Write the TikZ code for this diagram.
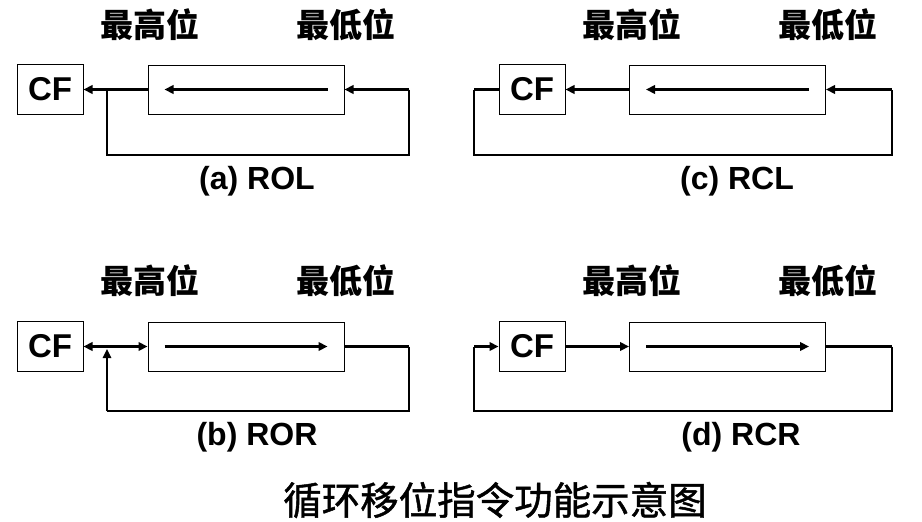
\documentclass[tikz,border=0pt]{standalone}
\usepackage{fontspec}
\setmainfont{Liberation Sans}
\newfontfamily\cjk{Noto Sans CJK SC}
\newfontfamily\cjkmed{Noto Sans CJK SC}[FakeBold=1.2]
\usetikzlibrary{arrows.meta}
\begin{document}
\begin{tikzpicture}[x=1pt,y=-1pt,
  cfbox/.style={draw,line width=1pt,inner sep=0pt,minimum width=66pt,minimum height=50pt,font=\fontsize{33}{35}\selectfont\bfseries},
  regbox/.style={draw,line width=1pt,inner sep=0pt,minimum width=196pt,minimum height=49pt},
  thickline/.style={line width=3.2pt},
  flow/.style={thickline,-{Triangle[length=9pt,width=8.5pt]}},
  loopline/.style={line width=1.4pt},
  bitlbl/.style={font=\cjk\bfseries\fontsize{33}{35}\selectfont},
  caption/.style={font=\bfseries\fontsize{32}{34}\selectfont},
  title/.style={font=\cjkmed\fontsize{38.5}{40}\selectfont}]
\useasboundingbox (0,0) rectangle (922,522);
\fill[white] (0,0) rectangle (922,522);

% ---------- (a) ROL ----------
\node[bitlbl] (ha) at (150,25) {最高位};
\node[bitlbl] (la) at (346,25) {最低位};
\node[cfbox] (cfa) at (50,89.5) {CF};
\node[regbox] (ra) at (246,89.5) {};
\coordinate (ina) at (409,89.5);
\coordinate (ja) at (107,89.5);
\coordinate (ba) at (107,155);
\draw[flow] ([xshift=-17pt]ra.east) -- ([xshift=17pt]ra.west);
\draw[flow] (ina) -- (ra.east);
\draw[flow] (ra.west) -- (cfa.east);
\draw[loopline] (ina) |- (ba) -- (ja);
\node[caption] (capa) at (257,181) {(a) ROL};

% ---------- (c) RCL ----------
\node[bitlbl] (hc) at (632,25) {最高位};
\node[bitlbl] (lc) at (828,25) {最低位};
\node[cfbox] (cfc) at (532,89.5) {CF};
\node[regbox] (rc) at (727.5,89.5) {};
\coordinate (inc) at (892,89.5);
\coordinate (lc1) at (474,89.5);
\coordinate (bc) at (474,155);
\draw[flow] ([xshift=-17pt]rc.east) -- ([xshift=17pt]rc.west);
\draw[flow] (inc) -- (rc.east);
\draw[flow] (rc.west) -- (cfc.east);
\draw[thickline] (cfc.west) -- (lc1);
\draw[loopline] (lc1) |- (bc) -| (inc);
\node[caption] (capc) at (737,181) {(c) RCL};

% ---------- (b) ROR ----------
\node[bitlbl] (hb) at (150,281) {最高位};
\node[bitlbl] (lb) at (346,281) {最低位};
\node[cfbox] (cfb) at (50,346.5) {CF};
\node[regbox] (rb) at (246,346.5) {};
\coordinate (outb) at (409,346.5);
\coordinate (jb) at (107,349);
\coordinate (bb) at (107,411);
\draw[flow] ([xshift=17pt]rb.west) -- ([xshift=-17pt]rb.east);
\draw[thickline,{Triangle[length=9pt,width=8.5pt]}-{Triangle[length=9pt,width=8.5pt]}] (cfb.east) -- (rb.west);
\draw[thickline] (rb.east) -- (outb);
\draw[loopline] (outb) |- (bb);
\draw[loopline,-{Triangle[length=9pt,width=8.5pt]}] (bb) -- (jb);
\node[caption] (capb) at (257,437) {(b) ROR};

% ---------- (d) RCR ----------
\node[bitlbl] (hd) at (632,281) {最高位};
\node[bitlbl] (ld) at (828,281) {最低位};
\node[cfbox] (cfd) at (532,346.5) {CF};
\node[regbox] (rd) at (727.5,346.5) {};
\coordinate (outd) at (892,346.5);
\coordinate (ld1) at (474,346.5);
\coordinate (bd) at (474,411);
\draw[flow] ([xshift=17pt]rd.west) -- ([xshift=-17pt]rd.east);
\draw[flow] (cfd.east) -- (rd.west);
\draw[thickline] (rd.east) -- (outd);
\draw[loopline] (outd) |- (bd) -- (ld1);
\draw[flow] (ld1) -- (cfd.west);
\node[caption] (capd) at (741,437) {(d) RCR};

% ---------- title ----------
\node[title] (tt) at (495,500) {循环移位指令功能示意图};
\end{tikzpicture}
\end{document}
